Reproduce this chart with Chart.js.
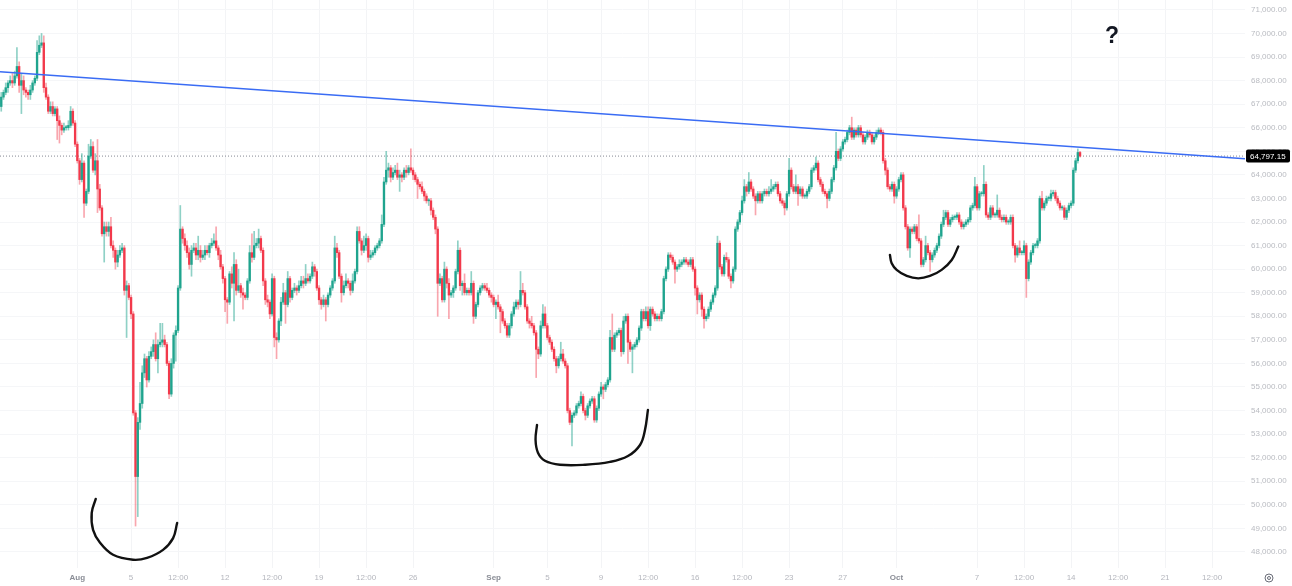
<!DOCTYPE html>
<html><head><meta charset="utf-8">
<script src="https://cdn.jsdelivr.net/npm/chart.js@4.4.1/dist/chart.umd.min.js"></script>
<style>html,body{margin:0;padding:0;background:#fff;overflow:hidden}#wrap{width:1292px;height:586px}</style>
</head><body><div id="wrap"><canvas id="c" width="1292" height="586"></canvas></div>
<script>
// ---- time base: x axis in days since Aug 1 00:00, 4h candles ----
const firstCandleDay = -5 - 2/3;   // Jul 26 08:00
const candleDays = 1/6;            // 4h
const firstOpen = 66.9;            // price in thousands USD

// closes (thousands), one line per day
const closes = [
67.3,67.5,67.7,67.9,68.0,67.9,
68.2,68.6,67.8,68.0,67.6,67.5,
67.4,67.6,67.9,68.1,69.2,69.5,
69.6,67.7,67.3,66.7,66.9,66.6,
66.8,66.3,66.1,65.9,66.0,66.0,
66.1,66.7,66.2,65.3,64.6,63.8,
64.5,62.8,63.3,64.8,65.2,64.2,
64.6,63.4,62.6,61.5,61.8,61.6,
61.8,61.0,60.8,60.3,60.6,60.8,
60.9,59.1,59.3,58.8,58.1,53.9,
51.2,53.5,54.3,55.6,56.2,55.3,
56.3,56.5,56.8,56.2,56.8,56.9,
57.0,56.8,56.0,54.7,56.0,57.2,
57.4,59.2,61.7,61.3,61.0,60.7,
60.2,60.8,60.9,60.6,60.8,60.5,
60.6,60.8,60.7,61.0,61.1,61.2,
60.9,60.6,60.1,59.6,58.7,58.6,
59.8,59.4,60.2,59.1,59.3,59.0,
58.9,58.8,59.5,60.7,60.5,61.0,
61.1,61.3,60.8,59.5,58.7,58.6,
58.1,59.6,57.1,57.0,57.8,58.6,
59.0,58.5,59.6,58.8,59.1,59.2,
59.1,59.3,59.5,59.4,59.6,59.5,
59.7,60.1,59.9,59.2,58.7,58.5,
58.7,58.5,58.9,59.2,59.5,60.9,
60.7,59.7,59.0,59.3,59.5,59.4,
59.1,59.5,59.9,61.6,61.2,60.8,
61.0,61.3,60.5,60.6,60.7,60.9,
61.0,61.2,61.9,63.7,64.2,64.3,
63.9,64.1,64.2,63.9,64.0,63.9,
64.2,64.1,64.3,64.2,64.0,63.8,
63.6,63.5,63.3,63.1,62.9,62.9,
62.5,62.2,61.7,59.4,59.6,
58.7,60.0,59.4,58.9,59.0,59.2,
59.9,60.8,59.3,59.4,59.0,59.1,
59.0,59.4,58.0,58.5,59.0,59.2,
59.3,59.2,59.1,58.9,58.8,58.5,
58.6,58.4,58.2,57.8,57.6,57.2,
57.6,58.1,58.4,58.6,58.5,59.1,
59.0,58.4,57.8,57.7,57.6,57.3,
56.6,56.4,57.6,58.1,57.6,57.1,
56.9,56.6,56.2,55.9,56.2,56.4,
56.1,55.9,54.0,53.5,53.8,53.9,
54.2,54.3,54.6,54.0,53.8,54.2,
54.4,54.5,53.6,54.1,54.7,55.0,
54.9,55.1,55.3,57.1,56.6,57.2,
57.3,57.4,56.5,57.8,58.0,56.9,
56.6,56.7,56.8,57.0,57.5,58.2,
57.9,58.2,57.6,58.3,58.1,57.9,
58.0,57.9,58.2,59.6,60.0,60.6,
60.5,60.3,60.0,60.1,60.2,60.3,
60.4,60.3,60.2,60.4,60.0,59.2,
58.7,58.9,58.3,57.9,58.0,58.3,
58.6,58.9,59.2,61.1,60.1,59.8,
60.5,60.4,59.7,59.5,60.0,61.7,
62.0,62.4,62.9,63.5,63.3,63.7,
63.4,63.1,62.9,63.2,62.9,63.2,
63.3,63.2,63.3,63.4,63.5,63.6,
63.2,62.9,62.8,62.6,63.2,64.2,
63.5,63.3,63.5,63.2,63.4,63.1,
63.1,63.3,63.5,64.2,64.3,64.5,
63.8,63.6,63.3,63.2,63.0,63.3,
63.8,64.3,65.0,64.7,65.1,65.4,
65.5,65.8,66.0,65.6,65.9,65.7,
66.0,
65.7,65.4,65.6,65.8,65.7,65.4,
65.6,65.8,65.9,65.8,64.6,64.2,
63.5,63.4,63.6,63.1,63.4,63.8,
64.0,62.6,61.8,60.9,61.7,61.6,
61.8,61.3,61.2,60.2,60.4,61.0,
60.7,60.4,60.6,60.8,61.0,61.4,
61.9,62.2,62.4,61.9,62.1,62.2,
62.2,62.3,62.0,61.8,61.9,62.0,
62.1,62.6,62.7,63.5,62.6,63.2,
63.2,63.6,62.3,62.2,62.6,62.3,
62.3,62.5,62.2,62.1,62.2,62.0,
62.0,62.2,61.0,60.6,60.9,60.7,
60.7,61.0,59.6,60.3,60.7,61.0,
61.0,61.2,63.0,62.6,62.8,63.0,
63.0,63.2,63.25,63.0,62.8,62.6,
62.6,62.2,62.5,62.7,62.8,64.2,
64.6,64.95,64.79715
];

// upper wick length above the body (thousands)
const wickUp = [
0.2,0.1,0.2,0.1,0.2,0.3, 0.2,0.8,0.2,0.3,0.2,0.1, 0.1,0.2,0.1,0.1,0.5,0.4, 0.4,0.3,0.2,0.1,0.2,0.2,
0.1,0.1,0.2,0.1,0.2,0.1, 0.2,0.2,0.1,0.1,0.1,0.1, 0.4,0.1,0.1,0.5,0.3,0.2, 0.3,0.9,0.2,0.1,0.2,0.2,
0.2,0.4,0.2,0.1,0.2,0.2, 0.2,0.1,0.2,0.1,0.1,0.1, 0.1,0.2,0.9,0.3,0.2,0.1, 0.2,0.2,0.2,0.5,0.2,0.8,
0.7,0.2,0.1,0.1,0.2,0.1, 0.2,0.1,1.0,0.1,0.2,0.2, 0.2,0.2,0.2,0.2,0.6,0.2, 0.2,0.2,0.2,0.1,0.2,0.3,
0.6,0.1,0.2,0.1,0.1,0.1, 0.1,0.3,0.5,0.2,0.7,0.1, 0.2,0.1,0.1,0.3,0.8,0.6, 0.2,0.4,0.1,0.1,0.1,0.2,
0.1,0.2,0.1,0.2,0.1,0.2, 0.4,0.1,0.3,0.1,0.1,0.2, 0.1,0.2,0.2,0.2,0.6,0.2, 0.1,0.2,0.1,0.1,0.1,0.1,
0.2,0.1,0.1,0.1,0.1,0.5, 0.2,0.1,0.1,0.2,0.3,0.1, 0.1,0.3,0.1,0.2,0.2,0.1, 0.4,0.2,0.1,0.2,0.1,0.1,
0.1,0.1,0.4,0.2,0.8,0.2, 0.1,0.2,0.2,0.3,0.2,0.1, 0.1,0.2,0.1,0.8,0.1,0.1, 0.1,0.1,0.2,0.1,0.1,0.1,
0.1,0.1,0.1,0.1,0.2,
0.1,0.3,0.1,0.2,0.1,0.1, 0.1,0.4,0.1,0.1,0.4,0.1, 0.1,0.5,0.1,0.1,0.1,0.1, 0.1,0.1,0.2,0.1,0.1,0.1,
0.1,0.3,0.1,0.1,0.1,0.1, 0.1,0.1,0.2,0.1,0.1,0.8, 0.3,0.1,0.1,0.1,0.3,0.1, 0.1,0.1,0.2,0.4,0.3,0.1,
0.1,0.1,0.1,0.1,0.1,0.5, 0.2,0.1,0.1,0.1,0.1,0.1, 0.1,0.1,0.2,0.1,0.1,0.1, 0.1,0.1,0.1,0.1,0.1,0.2,
0.1,0.1,0.1,0.3,1.0,0.1, 0.1,0.1,0.1,0.2,0.1,0.1, 0.1,0.1,0.1,0.1,0.1,0.1, 0.1,0.2,0.2,0.1,0.1,0.1,
0.1,0.1,0.1,0.1,0.1,0.1, 0.1,0.1,0.1,0.1,0.2,0.1, 0.1,0.1,0.1,0.1,0.1,0.1, 0.1,0.1,0.1,0.1,0.1,0.1,
0.1,0.1,0.1,0.3,0.1,0.1, 0.1,0.2,0.1,0.1,0.1,0.1, 0.1,0.1,0.2,0.3,0.1,0.4, 0.1,0.1,0.1,0.1,0.1,0.1,
0.1,0.1,0.2,0.4,0.1,0.1, 0.1,0.1,0.1,0.1,0.1,0.5, 0.1,0.1,0.5,0.1,0.1,0.1, 0.1,0.1,0.1,0.1,0.1,0.25,
0.1,0.1,0.1,0.1,0.1,0.1, 0.1,0.1,0.8,0.1,0.1,0.1, 0.1,0.1,0.1,0.45,0.1,0.1,
0.1,
0.1,0.1,0.1,0.1,0.1,0.1, 0.1,0.1,0.1,0.1,0.1,0.1, 0.1,0.1,0.1,0.1,0.1,0.1, 0.1,0.1,0.1,0.1,0.1,0.1,
0.1,0.1,1.0,0.1,0.1,0.4, 0.1,0.1,0.1,0.1,0.1,0.1, 0.1,0.3,0.1,0.1,0.1,0.1, 0.1,0.1,0.1,0.1,0.1,0.1,
0.1,0.1,0.1,0.4,0.1,0.1, 0.1,0.8,0.1,0.1,0.1,0.1, 0.1,0.65,0.1,0.1,0.1,0.1, 0.1,0.1,0.1,0.1,0.1,0.3,
0.1,0.2,0.1,0.1,0.1,0.1, 0.1,0.1,0.1,0.3,0.1,0.1, 0.1,0.15,0.1,0.1,0.1,0.1, 0.1,0.1,0.1,0.1,0.1,0.1,
0.1,0.15,0.05
];

// lower wick length below the body (thousands)
const wickDn = [
0.2,0.1,0.1,0.2,0.1,0.2, 0.1,0.1,0.3,1.2,0.2,0.2, 0.2,0.2,0.1,0.1,0.1,0.1, 0.1,0.2,0.1,0.1,0.1,0.1,
0.1,0.8,0.75,0.2,0.1,0.1, 0.1,0.1,0.1,0.1,0.1,0.2, 0.1,0.6,0.1,0.1,0.1,0.1, 0.2,1.0,0.1,0.1,1.2,0.2,
0.2,0.1,0.3,0.3,0.2,0.1, 0.1,0.2,2.0,0.1,0.2,0.1, 2.1,1.7,0.3,0.2,0.2,0.3, 0.1,0.1,0.2,0.1,0.6,0.1,
0.2,0.1,0.1,0.2,0.1,0.2, 1.1,0.1,0.1,0.2,0.2,0.2, 0.2,0.5,0.1,0.2,0.2,0.2, 0.1,0.2,0.1,0.2,0.1,0.1,
0.1,0.2,0.1,0.2,0.5,0.9, 0.1,0.2,1.6,0.2,0.1,0.2, 0.6,0.1,0.1,0.1,0.2,0.1, 0.1,0.2,0.1,0.2,0.2,0.2,
0.2,0.1,0.4,0.8,0.1,0.2, 0.1,0.8,0.1,0.2,0.1,0.1, 0.2,0.1,0.1,0.2,0.1,0.1, 0.1,0.1,0.2,0.1,0.2,0.2,
0.1,0.7,0.1,0.1,0.1,0.1, 0.2,0.1,0.4,0.1,0.1,0.2, 0.2,0.1,0.1,0.1,0.1,0.2, 0.1,0.2,0.2,0.1,0.1,0.1,
0.1,0.1,0.1,0.1,0.1,0.3, 0.2,0.1,0.1,0.1,0.6,0.2, 0.1,0.2,0.1,0.1,0.2,0.1, 0.6,0.1,0.1,0.2,0.1,0.2,
0.2,0.1,0.2,1.4,0.1,
0.1,0.1,0.2,1.0,0.1,0.2, 0.1,0.1,0.2,0.4,0.1,0.1, 0.1,0.1,0.3,0.1,0.1,0.1, 0.1,0.1,0.1,0.1,0.2,0.1,
0.6,0.1,0.9,0.1,0.1,0.1, 0.1,0.1,0.1,0.1,0.2,0.1, 0.1,0.1,0.1,0.2,0.1,0.1, 1.2,0.2,0.1,0.1,0.1,0.1,
0.1,0.1,0.1,0.3,0.1,0.1, 0.1,0.1,0.1,0.1,1.0,0.1, 0.1,0.1,0.1,0.1,0.2,0.1, 0.1,0.1,0.1,0.1,0.1,0.1,
0.4,0.1,0.1,0.1,0.1,0.1, 0.1,0.1,0.2,0.1,0.1,0.9, 0.1,1.0,0.1,0.1,0.1,0.1, 0.1,0.1,0.1,0.2,0.1,0.1,
0.1,0.1,0.1,0.1,0.1,0.1, 0.1,0.1,0.6,0.1,0.1,0.1, 0.1,0.1,0.1,0.1,0.1,0.3, 0.6,0.1,0.3,0.4,0.1,0.1,
0.1,0.1,0.1,0.1,0.1,0.1, 0.1,0.1,0.1,0.3,0.1,0.1, 0.1,0.1,0.1,0.1,0.2,0.1, 0.1,0.1,0.6,0.1,0.1,0.1,
0.1,0.1,0.1,0.1,0.1,0.1, 0.1,0.1,0.1,0.3,0.1,0.1, 0.1,0.1,0.1,0.5,0.1,0.1, 0.1,0.1,0.1,0.1,0.1,0.1,
0.1,0.1,0.1,0.1,0.4,0.1, 0.1,0.1,0.1,0.1,0.1,0.1, 0.1,0.1,0.1,0.1,0.1,0.1,
0.1,
0.1,0.1,0.1,0.1,0.1,0.1, 0.1,0.1,0.1,0.1,0.1,0.2, 0.1,0.1,0.1,0.3,0.1,0.1, 0.1,0.1,0.1,0.1,0.4,0.1,
0.1,0.1,0.1,0.1,0.1,0.1, 0.1,0.5,0.1,0.1,0.1,0.1, 0.1,0.1,0.1,0.1,0.1,0.1, 0.1,0.1,0.1,0.1,0.1,0.1,
0.1,0.1,0.1,0.1,0.1,0.1, 0.1,0.1,0.1,0.1,0.1,0.1, 0.1,0.1,0.1,0.1,0.1,0.1, 0.1,0.1,0.1,0.3,0.1,0.1,
0.1,0.1,0.8,0.1,0.1,0.1, 0.1,0.1,0.1,0.1,0.1,0.1, 0.1,0.1,0.1,0.1,0.1,0.1, 0.1,0.1,0.1,0.1,0.1,0.1,
0.1,0.1,0.05
];

const lastPrice = 64.79715;

// drawn trend line (day, price k)
const trendLine = [[-5.76, 68.38], [86.95, 64.68]];

// hand-drawn curves (day, price k)
const curveAug = [[1.37,50.25],[1.07,49.66],[1.17,48.94],[1.69,48.39],[2.66,47.88],[4.15,47.67],[5.19,47.75],[6.38,48.09],[7.13,48.59],[7.43,49.23]];
const curveSep = [[34.23,53.39],[34.12,52.76],[34.30,52.21],[34.82,51.87],[35.94,51.70],[37.80,51.70],[39.66,51.82],[41.00,52.07],[41.90,52.54],[42.27,53.18],[42.49,54.03]];
const curveOct = [[60.51,60.60],[60.64,60.25],[61.01,59.97],[61.76,59.71],[62.62,59.61],[63.49,59.71],[64.36,59.97],[65.11,60.39],[65.60,60.96]];

const questionText = '?';
const questionAt = [77.05, 69.87];

// axes
const xTickDays   = [0, 4, 7.5, 11, 14.5, 18, 21.5, 25, 31, 35, 39, 42.5, 46, 49.5, 53, 57, 61, 67, 70.5, 74, 77.5, 81, 84.5];
const xTickLabels = ['Aug','5','12:00','12','12:00','19','12:00','26','Sep','5','9','12:00','16','12:00','23','27','Oct','7','12:00','14','12:00','21','12:00'];
const monthLabels = ['Aug','Sep','Oct'];
const yTickValues = [48,49,50,51,52,53,54,55,56,57,58,59,60,61,62,63,64,65,66,67,68,69,70,71];
const xRange = [-5.76, 86.95];
const yRange = [47.32, 71.42];

// ---- build datasets ----
const UP = '#1fa48e', DN = '#f2394b';
const UPW = 'rgba(31,164,142,0.5)', DNW = 'rgba(242,57,75,0.45)';
const bodies = [], wicks = [], bodyCol = [], wickCol = [];
let prev = firstOpen;
closes.forEach((c, i) => {
  const o = prev;
  const x = firstCandleDay + i * candleDays;
  const up = c >= o;
  bodies.push({x, y: [o, c]});
  wicks.push({x, y: [Math.min(o, c) - wickDn[i], Math.max(o, c) + wickUp[i]]});
  bodyCol.push(up ? UP : DN);
  wickCol.push(up ? UPW : DNW);
  prev = c;
});
const pts = a => a.map(([x, y]) => ({x, y}));
const fmt = v => v.toLocaleString('en-US', {minimumFractionDigits: 2, maximumFractionDigits: 2});

const overlay = {
  id: 'overlay',
  afterDraw(chart) {
    const {ctx, chartArea} = chart;
    const xs = chart.scales.x, ys = chart.scales.y;
    ctx.save();
    ctx.fillStyle = '#131722';
    ctx.font = 'bold 23px "Liberation Sans", Arial, sans-serif';
    ctx.textAlign = 'center'; ctx.textBaseline = 'middle';
    ctx.fillText(questionText, xs.getPixelForValue(questionAt[0]), ys.getPixelForValue(questionAt[1]));
    // last price label
    const py = ys.getPixelForValue(lastPrice);
    const lx = chartArea.right + 1;
    ctx.fillStyle = '#000';
    ctx.beginPath();
    if (ctx.roundRect) ctx.roundRect(lx, py - 6.5, 44, 13, 2); else ctx.rect(lx, py - 6.5, 44, 13);
    ctx.fill();
    ctx.fillStyle = '#fff';
    ctx.font = '8px "Liberation Sans", Arial, sans-serif';
    ctx.textAlign = 'left';
    ctx.fillText(fmt(lastPrice * 1000), lx + 4, py + 0.5);
    // settings icon at bottom right
    const ix = chartArea.right + 24, iy = chartArea.bottom + 10;
    ctx.strokeStyle = '#6a6d78'; ctx.lineWidth = 1;
    ctx.beginPath(); ctx.arc(ix, iy, 4, 0, Math.PI * 2); ctx.stroke();
    ctx.beginPath(); ctx.arc(ix, iy, 1.5, 0, Math.PI * 2); ctx.stroke();
    ctx.restore();
  }
};

const curveStyle = {type: 'line', borderColor: '#111', borderWidth: 2.4, pointRadius: 0, tension: 0.4, fill: false, order: 0, borderCapStyle: 'round'};

new Chart(document.getElementById('c'), {
  type: 'bar',
  data: {
    datasets: [
      {type: 'line', data: [{x: xRange[0], y: lastPrice}, {x: xRange[1], y: lastPrice}], borderColor: 'rgba(120,123,134,0.9)', borderWidth: 1, borderDash: [1, 2], pointRadius: 0, order: 5},
      {data: wicks, backgroundColor: wickCol, barThickness: 1, grouped: false, borderWidth: 0, order: 4},
      {data: bodies, backgroundColor: bodyCol, barThickness: 1.7, grouped: false, borderWidth: 0, minBarLength: 1, order: 3},
      {type: 'line', data: pts(trendLine), borderColor: '#3a6cf4', borderWidth: 1.5, pointRadius: 0, order: 1},
      Object.assign({data: pts(curveAug)}, curveStyle),
      Object.assign({data: pts(curveSep)}, curveStyle),
      Object.assign({data: pts(curveOct)}, curveStyle)
    ]
  },
  options: {
    responsive: false,
    animation: false,
    devicePixelRatio: 1,
    layout: {padding: 0},
    plugins: {legend: {display: false}, tooltip: {enabled: false}},
    scales: {
      x: {
        type: 'linear', min: xRange[0], max: xRange[1], offset: false,
        afterBuildTicks: s => { s.ticks = xTickDays.map(v => ({value: v})); },
        afterFit: s => { s.height = 18; s.paddingLeft = 0; s.paddingRight = 0; },
        grid: {color: '#f3f4f6', drawTicks: false, offset: false},
        border: {display: false},
        ticks: {
          autoSkip: false, maxRotation: 0, padding: 5,
          callback: (v, i) => xTickLabels[i],
          color: c => monthLabels.includes(xTickLabels[c.index]) ? '#8a8d96' : '#b4b6bd',
          font: c => ({family: '"Liberation Sans", Arial, sans-serif', size: 8, weight: monthLabels.includes(xTickLabels[c.index]) ? 'bold' : 'normal'})
        }
      },
      y: {
        position: 'right', min: yRange[0], max: yRange[1],
        afterBuildTicks: s => { s.ticks = yTickValues.map(v => ({value: v})); },
        afterFit: s => { s.width = 47; s.paddingTop = 0; s.paddingBottom = 0; },
        grid: {color: '#f5f6f8', drawTicks: false},
        border: {display: false},
        ticks: {
          padding: 6, color: '#b9bbc1',
          font: {family: '"Liberation Sans", Arial, sans-serif', size: 8},
          callback: v => fmt(v * 1000)
        }
      }
    }
  },
  plugins: [overlay]
});
</script>
</body></html>
